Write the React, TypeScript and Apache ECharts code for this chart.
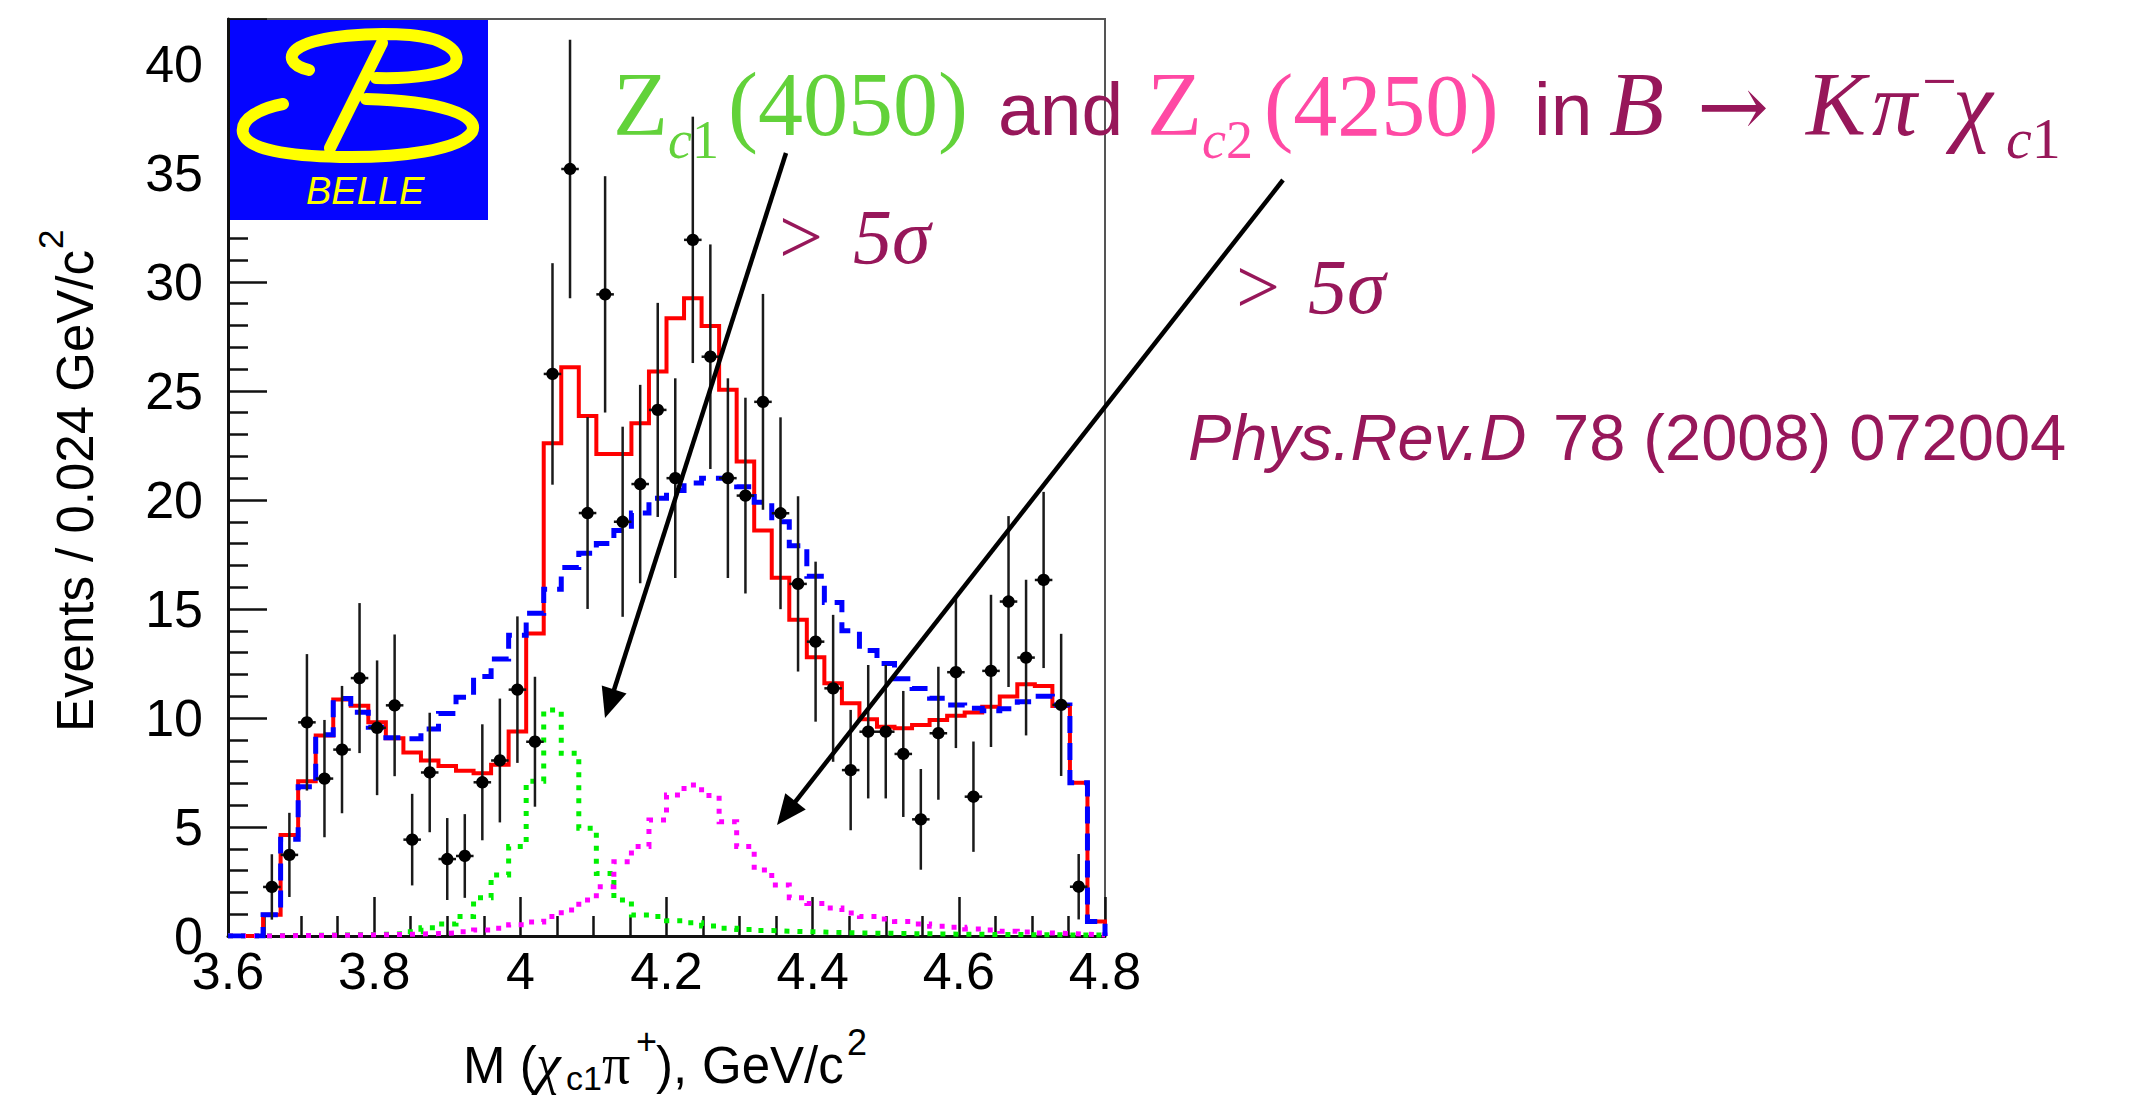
import React, { useEffect, useRef } from "react";
import * as echarts from "echarts";

// M(chi_c1 pi+) histogram binning: 50 bins of 0.024 GeV/c^2 starting at 3.6
const BIN_START = 3.6;
const BIN_WIDTH = 0.024;

const xTickLabels = ["3.6", "3.8", "4", "4.2", "4.4", "4.6", "4.8"];
const yTickLabels = ["0", "5", "10", "15", "20", "25", "30", "35", "40"];

// Measured points: bin centre (GeV/c^2), events per bin, error
const dataMass = [
  3.66, 3.684, 3.708, 3.732, 3.756, 3.78, 3.804, 3.828, 3.852, 3.876, 3.9, 3.924, 3.948, 3.972, 3.996,
  4.02, 4.044, 4.068, 4.092, 4.116, 4.14, 4.164, 4.188, 4.212, 4.236, 4.26, 4.284, 4.308, 4.332, 4.356, 4.38, 4.404,
  4.428, 4.452, 4.476, 4.5, 4.524, 4.548, 4.572, 4.596, 4.62, 4.644, 4.668, 4.692, 4.716, 4.74, 4.764,
];
const dataEvents = [
  2.25, 3.72, 9.8, 7.22, 8.55, 11.83, 9.55, 10.58, 4.42, 7.5, 3.53, 3.67, 7.05, 8.05, 11.3,
  8.91, 25.78, 35.18, 19.4, 29.43, 19.0, 20.73, 24.13, 21.0, 31.93, 26.57, 21.0, 20.2, 24.5, 19.39, 16.15, 13.5,
  11.36, 7.61, 9.37, 9.37, 8.35, 5.35, 9.3, 12.1, 6.39, 12.16, 15.34, 12.77, 16.33, 10.6, 2.26,
];
const dataErrors = [
  1.5, 1.93, 3.13, 2.69, 2.92, 3.44, 3.09, 3.25, 2.1, 2.74, 1.88, 1.92, 2.66, 2.84, 3.36,
  2.98, 5.08, 5.93, 4.4, 5.42, 4.36, 4.55, 4.91, 4.58, 5.65, 5.15, 4.58, 4.49, 4.95, 4.4, 4.02, 3.67,
  3.37, 2.76, 3.06, 3.06, 2.89, 2.31, 3.05, 3.48, 2.53, 3.49, 3.92, 3.57, 4.04, 3.26, 1.5,
];

// Fit components, one value per bin
const fitTotal = [
  0, 0, 0.97, 4.63, 7.1, 9.2, 10.85, 10.56, 9.8, 9.07,
  8.42, 8.05, 7.8, 7.58, 7.47, 7.85, 9.38, 13.88, 22.6, 26.09,
  23.85, 22.11, 22.11, 23.52, 25.89, 28.33, 29.25, 27.98, 25.05, 21.76,
  18.6, 16.43, 14.5, 12.78, 11.59, 10.67, 9.94, 9.6, 9.53, 9.68,
  9.91, 10.1, 10.25, 10.52, 10.98, 11.55, 11.47, 10.55, 7.03, 0.66,
];
const fitBackground = [
  0, 0, 0.97, 4.44, 6.84, 9.23, 10.89, 10.26, 9.58, 9.09,
  9.05, 9.5, 10.2, 10.95, 11.9, 12.7, 13.8, 14.8, 15.9, 16.9,
  17.55, 18.0, 18.6, 19.4, 20.08, 20.43, 20.78, 21.0, 21.0, 20.6,
  19.9, 19.0, 17.9, 16.5, 15.3, 14.0, 13.1, 12.5, 11.8, 11.35,
  10.9, 10.6, 10.45, 10.33, 10.42, 10.75, 11.0, 10.6, 7.03, 0.66,
];
const fitZc1 = [
  0, 0, 0.01, 0.02, 0.03, 0.04, 0.05, 0.06, 0.08, 0.1,
  0.2, 0.38, 0.55, 0.9, 1.75, 2.8, 4.1, 7.1, 10.37, 8.38,
  4.94, 2.87, 1.65, 0.96, 0.89, 0.7, 0.61, 0.46, 0.35, 0.3,
  0.25, 0.22, 0.2, 0.18, 0.16, 0.14, 0.13, 0.12, 0.11, 0.1,
  0.09, 0.08, 0.08, 0.07, 0.07, 0.06, 0.06, 0.05, 0.05, 0.04,
];
const fitZc2 = [
  0, 0, 0.01, 0.02, 0.02, 0.03, 0.04, 0.05, 0.06, 0.07,
  0.09, 0.11, 0.14, 0.2, 0.27, 0.36, 0.52, 0.64, 0.9, 1.19,
  1.65, 2.26, 3.41, 4.1, 5.32, 6.47, 6.93, 6.45, 5.24, 4.1,
  3.03, 2.34, 1.75, 1.49, 1.28, 1.05, 0.9, 0.78, 0.66, 0.55,
  0.45, 0.4, 0.32, 0.27, 0.22, 0.18, 0.14, 0.11, 0.08, 0.05,
];

const SANS = "'Liberation Sans', Arial, Helvetica, sans-serif";
const SERIF = "'Liberation Serif', 'Times New Roman', serif";
const ARROW_FONT = "'DejaVu Serif', 'Liberation Serif', serif";
const TEXT_COLOR = "#97175a";
const ZC1_COLOR = "#62d23a";
const ZC2_COLOR = "#ff49a4";

// Calligraphic "B" of the Belle emblem
const LOGO_B_PATH =
  "M 309 70 C 292 66 285 56 300 47 C 320 36 370 32 410 35 C 445 38 462 52 455 64 C 448 74 415 79 376 78 " +
  "M 382 43 L 330 148 " +
  "M 283 104 C 262 108 240 118 243 133 C 247 150 290 156 340 157 C 400 158 460 150 472 132 C 480 115 440 101 366 99";

let logoRegistered = false;
function registerLogo() {
  if (logoRegistered) return;
  echarts.graphic.registerShape("belleB", echarts.graphic.extendPath(LOGO_B_PATH, {}) as any);
  logoRegistered = true;
}

function baselineShift(family: string) {
  return family === SANS ? 0.3465 : 0.3375;
}

// Text placed by its alphabetic baseline
function label(text: string, x: number, baseline: number, size: number, family: string, color: string, italic = false) {
  return {
    type: "text",
    x,
    y: baseline - baselineShift(family) * size,
    z: 100,
    silent: true,
    style: {
      text,
      fill: color,
      fontSize: size,
      fontFamily: family,
      fontStyle: italic ? "italic" : "normal",
      align: "left",
      verticalAlign: "middle",
      textAlign: "left",
      textVerticalAlign: "middle",
    },
  };
}

// Subscript such as "c1": italic letter followed by an upright digit
function subscript(letter: string, digit: string, x: number, baseline: number, size: number, color: string) {
  return {
    type: "text",
    x,
    y: baseline - baselineShift(SERIF) * size,
    z: 100,
    silent: true,
    style: {
      text: `{i|${letter}}{u|${digit}}`,
      fill: color,
      fontSize: size,
      fontFamily: SERIF,
      align: "left",
      verticalAlign: "middle",
      textAlign: "left",
      textVerticalAlign: "middle",
      rich: {
        i: { fontSize: size, fontFamily: SERIF, fontStyle: "italic", fill: color },
        u: { fontSize: size, fontFamily: SERIF, fontStyle: "normal", fill: color },
      },
    },
  };
}

function arrow(x1: number, y1: number, x2: number, y2: number) {
  const dx = x2 - x1;
  const dy = y2 - y1;
  const len = Math.hypot(dx, dy);
  const ux = dx / len;
  const uy = dy / len;
  const headLen = 30;
  const half = 13;
  const bx = x2 - ux * headLen;
  const by = y2 - uy * headLen;
  return [
    {
      type: "line",
      z: 100,
      silent: true,
      shape: { x1, y1, x2: bx + ux * 4, y2: by + uy * 4 },
      style: { stroke: "#000", lineWidth: 4.5 },
    },
    {
      type: "polygon",
      z: 100,
      silent: true,
      shape: { points: [[x2, y2], [bx - uy * half, by + ux * half], [bx + uy * half, by - ux * half]] },
      style: { fill: "#000" },
    },
  ];
}

function histogramSteps(values: number[]) {
  const pts: number[][] = values.map((v, i) => [BIN_START + i * BIN_WIDTH, v]);
  const end = BIN_START + values.length * BIN_WIDTH;
  pts.push([end, values[values.length - 1]], [end, 0]);
  return pts;
}

function stepSeries(name: string, values: number[], color: string, width: number, type: any, z: number) {
  return {
    type: "line",
    name,
    data: histogramSteps(values),
    step: "end",
    symbol: "none",
    showSymbol: false,
    silent: true,
    clip: true,
    z,
    lineStyle: { color, width, type, cap: "butt", join: "miter" },
  };
}

export default function App() {
  const ref = useRef<HTMLDivElement>(null);

  useEffect(() => {
    if (!ref.current) return;
    registerLogo();
    const chart = echarts.init(ref.current, undefined, { renderer: "svg" });

    const axisTextStyle = { fontSize: 52, color: "#000", fontFamily: SANS };

    const option: any = {
      animation: false,
      backgroundColor: "#fff",
      grid: {
        left: 228,
        top: 19,
        right: 2137 - 1105,
        bottom: 1100 - 936,
        show: true,
        borderColor: "#555",
        borderWidth: 2,
        backgroundColor: "transparent",
      },
      xAxis: {
        type: "value",
        min: 3.6,
        max: 4.8,
        interval: 0.2,
        axisLine: { show: true, onZero: false, lineStyle: { color: "#111", width: 3 } },
        axisTick: { show: true, inside: true, length: 39, lineStyle: { color: "#111", width: 2.5 } },
        minorTick: { show: true, splitNumber: 4, length: 20, lineStyle: { color: "#111", width: 2.5 } },
        splitLine: { show: false },
        minorSplitLine: { show: false },
        axisLabel: {
          ...axisTextStyle,
          margin: 9,
          formatter: (_v: number, i: number) => xTickLabels[i] ?? "",
        },
      },
      yAxis: {
        type: "value",
        min: 0,
        max: 42.06,
        interval: 5,
        axisLine: { show: true, onZero: false, lineStyle: { color: "#111", width: 3 } },
        axisTick: { show: true, inside: true, length: 39, lineStyle: { color: "#111", width: 2.5 } },
        minorTick: { show: true, splitNumber: 5, length: 20, lineStyle: { color: "#111", width: 2.5 } },
        splitLine: { show: false },
        minorSplitLine: { show: false },
        axisLabel: {
          ...axisTextStyle,
          margin: 25,
          showMaxLabel: false,
          formatter: (_v: number, i: number) => yTickLabels[i] ?? "",
        },
      },
      series: [
        stepSeries("Fit", fitTotal, "#ff0000", 4, "solid", 3),
        stepSeries("Background", fitBackground, "#0000ff", 5, [17, 10], 4),
        stepSeries("Zc1(4050)", fitZc1, "#00f000", 5, [5, 8], 3),
        stepSeries("Zc2(4250)", fitZc2, "#ff00ff", 5, [5, 8], 3),
        {
          type: "custom",
          name: "Data",
          z: 6,
          silent: true,
          data: dataMass.map((m, i) => [m, dataEvents[i], dataErrors[i]]),
          renderItem: (_params: any, api: any) => {
            const m = api.value(0);
            const n = api.value(1);
            const e = api.value(2);
            const c = api.coord([m, n]);
            const hi = api.coord([m, n + e]);
            const lo = api.coord([m, Math.max(0, n - e)]);
            const l = api.coord([m - BIN_WIDTH / 2, n]);
            const r = api.coord([m + BIN_WIDTH / 2, n]);
            return {
              type: "group",
              children: [
                { type: "line", shape: { x1: hi[0], y1: hi[1], x2: lo[0], y2: lo[1] }, style: { stroke: "#1a1a1a", lineWidth: 2.5 } },
                { type: "line", shape: { x1: l[0], y1: l[1], x2: r[0], y2: r[1] }, style: { stroke: "#111", lineWidth: 2.5 } },
                { type: "circle", shape: { cx: c[0], cy: c[1], r: 6.2 }, style: { fill: "#000" } },
              ],
            };
          },
        },
      ],
      graphic: {
        elements: [
          // Belle emblem
          { type: "rect", z: 100, silent: true, shape: { x: 230, y: 20, width: 258, height: 200 }, style: { fill: "#0505ff" } },
          {
            type: "belleB",
            z: 101,
            silent: true,
            style: { fill: "none", stroke: "#ffff00", lineWidth: 12, lineCap: "round", lineJoin: "round" },
          },
          label("BELLE", 306, 204, 38, SANS, "#ffff00", true),

          // Axis titles
          {
            type: "group",
            x: 93,
            y: 732,
            rotation: Math.PI / 2,
            z: 100,
            silent: true,
            children: [
              label("Events / 0.024 GeV/c", 0, 0, 51, SANS, "#000"),
              label("2", 483, -30, 35, SANS, "#000"),
            ],
          },
          label("M (", 463, 1083, 51, SANS, "#000"),
          label("χ", 536, 1083, 56, SERIF, "#000", true),
          label("c1", 566, 1090, 34, SANS, "#000"),
          label("π", 602, 1083, 56, SERIF, "#000"),
          label("+", 636, 1054, 36, SANS, "#000"),
          label("),", 656, 1083, 51, SANS, "#000"),
          label("GeV/c", 702, 1083, 51, SANS, "#000"),
          label("2", 847, 1055, 36, SANS, "#000"),

          // Headline
          label("Z", 613, 135, 90, SERIF, ZC1_COLOR),
          subscript("c", "1", 668, 158, 54, ZC1_COLOR),
          label("(4050)", 728, 135, 90, SERIF, ZC1_COLOR),
          label("and", 998, 135, 75, SANS, TEXT_COLOR),
          label("Z", 1147, 135, 90, SERIF, ZC2_COLOR),
          subscript("c", "2", 1202, 158, 54, ZC2_COLOR),
          label("(4250)", 1264, 135, 88, SERIF, ZC2_COLOR),
          label("in", 1534, 135, 75, SANS, TEXT_COLOR),
          label("B", 1609, 135, 90, SERIF, TEXT_COLOR, true),
          label("→", 1697, 135, 86, ARROW_FONT, TEXT_COLOR),
          label("K", 1806, 135, 90, SERIF, TEXT_COLOR, true),
          label("π", 1872, 135, 90, SERIF, TEXT_COLOR, true),
          label("−", 1922, 102, 62, SERIF, TEXT_COLOR),
          label("χ", 1953, 135, 90, SERIF, TEXT_COLOR, true),
          subscript("c", "1", 2006, 158, 58, TEXT_COLOR),

          // Significance notes
          label(">", 779, 263, 78, SERIF, TEXT_COLOR),
          label("5σ", 853, 263, 78, SERIF, TEXT_COLOR, true),
          label(">", 1236, 313, 78, SERIF, TEXT_COLOR),
          label("5σ", 1308, 313, 78, SERIF, TEXT_COLOR, true),

          // Reference
          label("Phys.Rev.D", 1188, 460, 65, SANS, TEXT_COLOR, true),
          label("78 (2008) 072004", 1553, 460, 65, SANS, TEXT_COLOR),

          // Arrows pointing at the two signal shapes
          ...arrow(786, 153, 605, 718),
          ...arrow(1283, 180, 777, 825),
        ],
      },
    };

    chart.setOption(option);
    return () => chart.dispose();
  }, []);

  return (
    <div
      ref={ref}
      style={{ position: "fixed", left: 0, top: 0, width: "2137px", height: "1100px", background: "#fff" }}
    />
  );
}
